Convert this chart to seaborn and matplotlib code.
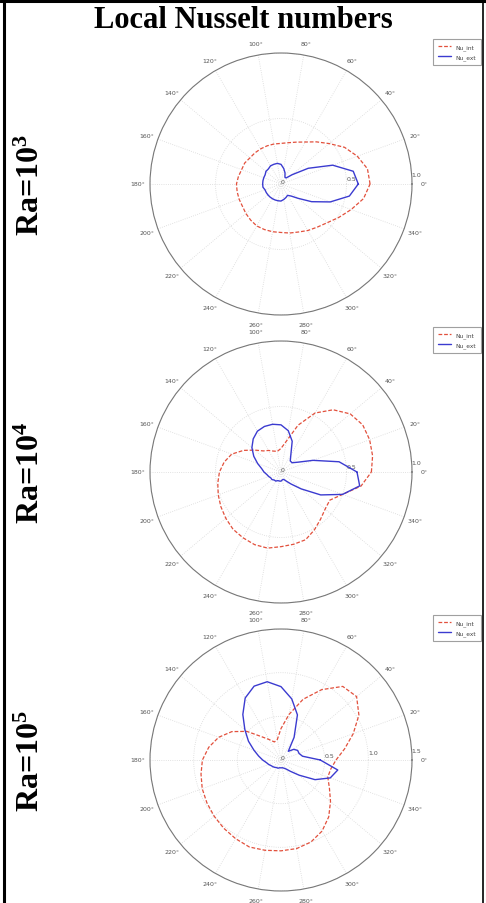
import numpy as np
import pandas as pd
import matplotlib
matplotlib.use("Agg")
import matplotlib.pyplot as plt
from matplotlib.lines import Line2D
import seaborn as sns

# ---------------- data ----------------
theta_deg = list(range(0, 360, 10))

nu_int_ra3 = [0.68, 0.67, 0.62, 0.56, 0.48, 0.42, 0.37, 0.34, 0.32, 0.31,
              0.31, 0.31, 0.31, 0.31, 0.31, 0.32, 0.32, 0.33, 0.34, 0.34,
              0.34, 0.34, 0.35, 0.36, 0.37, 0.37, 0.37, 0.37, 0.38, 0.39,
              0.41, 0.43, 0.46, 0.51, 0.57, 0.64]
nu_ext_ra3 = [0.59, 0.56, 0.42, 0.24, 0.11, 0.06, 0.06, 0.09, 0.12, 0.15,
              0.16, 0.16, 0.16, 0.15, 0.15, 0.14, 0.14, 0.14, 0.14, 0.14,
              0.13, 0.13, 0.13, 0.13, 0.13, 0.13, 0.13, 0.13, 0.12, 0.11,
              0.10, 0.12, 0.17, 0.27, 0.40, 0.53]

nu_int_ra4 = [0.69, 0.71, 0.72, 0.72, 0.69, 0.62, 0.52, 0.38, 0.24, 0.18,
              0.16, 0.17, 0.19, 0.21, 0.26, 0.33, 0.40, 0.44, 0.47, 0.49,
              0.51, 0.53, 0.55, 0.57, 0.58, 0.59, 0.59, 0.57, 0.56, 0.55,
              0.51, 0.47, 0.44, 0.43, 0.50, 0.62]
nu_ext_ra4 = [0.58, 0.45, 0.26, 0.15, 0.11, 0.11, 0.15, 0.25, 0.32, 0.36,
              0.37, 0.37, 0.36, 0.33, 0.29, 0.24, 0.19, 0.15, 0.13, 0.11,
              0.10, 0.09, 0.09, 0.08, 0.08, 0.07, 0.07, 0.07, 0.06, 0.06,
              0.08, 0.12, 0.20, 0.35, 0.50, 0.61]

nu_int_ra5 = [0.63, 0.74, 0.88, 1.03, 1.13, 1.10, 0.93, 0.74, 0.53, 0.36,
              0.24, 0.22, 0.27, 0.35, 0.51, 0.65, 0.76, 0.84, 0.90, 0.93,
              0.96, 0.98, 1.00, 1.02, 1.04, 1.06, 1.05, 1.04, 1.03, 1.00,
              0.94, 0.85, 0.74, 0.64, 0.57, 0.58]
nu_ext_ra5 = [0.45, 0.25, 0.22, 0.22, 0.19, 0.13, 0.30, 0.55, 0.71, 0.84,
              0.91, 0.90, 0.82, 0.68, 0.54, 0.43, 0.33, 0.26, 0.21, 0.17,
              0.15, 0.13, 0.12, 0.11, 0.10, 0.10, 0.09, 0.09, 0.09, 0.10,
              0.12, 0.17, 0.27, 0.45, 0.60, 0.66]

row_labels = ["Ra=10$^3$", "Ra=10$^4$", "Ra=10$^5$"]
series_labels = ["Nu_int", "Nu_ext"]
r_max = [1.0, 1.0, 1.5]
r_ticks = [[0, 0.5, 1.0], [0, 0.5, 1.0], [0, 0.5, 1.0, 1.5]]
title_text = "Local Nusselt numbers"

# ---------------- style ----------------
sns.set_theme(style="white")
plt.rcParams["font.family"] = ["DejaVu Sans"]
plt.rcParams["mathtext.default"] = "regular"
plt.rcParams["text.color"] = "black"

W, H = 486, 904
fig = plt.figure(figsize=(W / 100, H / 100), dpi=100)
fig.patch.set_facecolor("white")

red = "#e2503c"
blue = "#3b3bd0"
serif = ["Liberation Serif", "DejaVu Serif"]

data = [(nu_int_ra3, nu_ext_ra3), (nu_int_ra4, nu_ext_ra4), (nu_int_ra5, nu_ext_ra5)]
centers_y = [185, 473, 761]
R = 131
cx = 281

for i, ((nu_i, nu_e), cy) in enumerate(zip(data, centers_y)):
    left = (cx - R) / W
    bottom = (H - cy - R) / H
    ax = fig.add_axes([left, bottom, 2 * R / W, 2 * R / H], projection="polar")
    th = np.deg2rad(theta_deg + [theta_deg[0] + 360])
    df = pd.DataFrame({
        "theta": np.concatenate([th, th]),
        "r": nu_i + [nu_i[0]] + nu_e + [nu_e[0]],
        "series": [series_labels[0]] * len(th) + [series_labels[1]] * len(th),
    })
    sns.lineplot(data=df[df.series == series_labels[0]], x="theta", y="r",
                 ax=ax, sort=False, color=red, linestyle=(0, (3, 1.5)),
                 linewidth=0.9, label=series_labels[0], estimator=None)
    sns.lineplot(data=df[df.series == series_labels[1]], x="theta", y="r",
                 ax=ax, sort=False, color=blue, linestyle="-",
                 linewidth=1.0, label=series_labels[1], estimator=None)
    ax.set_xlabel("")
    ax.set_ylabel("")
    ax.set_ylim(0, r_max[i])
    ax.set_rticks(r_ticks[i])
    ax.set_yticklabels([f"{t:.1f}" if t != 0 else "0" for t in r_ticks[i]],
                       fontsize=4.5, color="#555555")
    ax.set_rlabel_position(3)
    ax.set_thetagrids(list(range(0, 360, 20)), fontsize=4.5, color="#555555")
    ax.tick_params(axis="x", pad=1.5, length=0)
    ax.tick_params(axis="y", pad=0, length=0)
    ax.grid(True, color="#d8d8d8", linestyle=":", linewidth=0.6)
    ax.spines["polar"].set_color("#777777")
    ax.spines["polar"].set_linewidth(0.8)
    leg = ax.legend(loc="upper right", bbox_to_anchor=(1.265, 1.055), fontsize=4.2,
                    frameon=True, fancybox=False, edgecolor="#888888",
                    handlelength=2.2, borderpad=0.9, labelspacing=0.8,
                    borderaxespad=0)
    leg.get_frame().set_linewidth(0.8)
    for t in leg.get_texts():
        t.set_color("#444444")

    fig.text(31 / W, 1 - cy / H, row_labels[i], rotation=90, ha="center",
             va="center", fontsize=23, fontweight="bold", color="black",
             family=serif)

fig.text(243 / W, 1 - 20 / H, title_text, ha="center", va="center",
         fontsize=22, fontweight="bold", color="black", family=serif)

# table border
fig.add_artist(Line2D([4 / W, 4 / W], [0, 1], color="black", linewidth=2.2,
                      transform=fig.transFigure))
fig.add_artist(Line2D([483 / W, 483 / W], [0, 1], color="black", linewidth=1.2,
                      transform=fig.transFigure))
fig.add_artist(Line2D([0, 1], [1 - 1.5 / H, 1 - 1.5 / H], color="black",
                      linewidth=2.2, transform=fig.transFigure))

fig.savefig("out.png", dpi=100, facecolor="white")
